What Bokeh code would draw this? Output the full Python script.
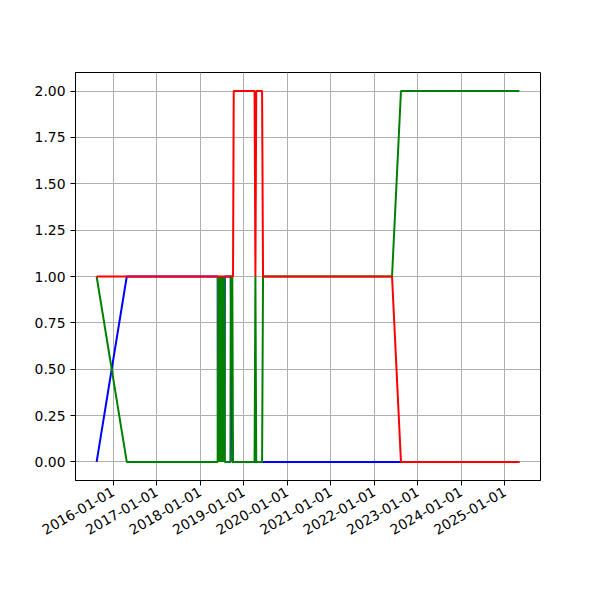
import math
import pandas as pd
from bokeh.plotting import figure
from bokeh.models import FixedTicker, PrintfTickFormatter, DatetimeTickFormatter, Range1d
from bokeh.embed import file_html
from bokeh.resources import INLINE

# ---- data ----
dates = [
    "2015-08-15", "2016-04-24",
    "2018-05-27", "2018-05-30", "2018-06-02", "2018-06-05", "2018-06-08", "2018-06-11",
    "2018-06-14", "2018-06-17", "2018-06-20", "2018-06-23", "2018-06-26", "2018-06-29",
    "2018-07-02", "2018-07-05", "2018-07-08", "2018-07-11", "2018-07-14", "2018-07-17",
    "2018-07-20", "2018-07-23", "2018-07-26", "2018-07-29",
    "2018-09-11", "2018-09-14", "2018-09-27", "2018-10-03", "2018-10-09",
    "2019-04-02", "2019-04-09", "2019-04-16",
    "2019-06-04", "2019-06-12",
    "2022-05-30", "2022-08-13",
    "2025-05-03",
]
blue = [
    0, 1,
    1, 0, 1, 0, 1, 0,
    1, 0, 1, 0, 1, 0,
    1, 0, 1, 0, 1, 0,
    1, 0, 1, 1,
    1, 1, 0, 0, 0,
    0, 0, 0,
    0, 0,
    0, 0,
    0,
]
green = [
    1, 0,
    0, 1, 0, 1, 0, 1,
    0, 1, 0, 1, 0, 1,
    0, 1, 0, 1, 0, 1,
    0, 1, 0, 0,
    0, 1, 1, 0, 0,
    0, 1, 0,
    0, 1,
    1, 2,
    2,
]
red = [
    1, 1,
    1, 1, 1, 1, 1, 1,
    1, 1, 1, 1, 1, 1,
    1, 1, 1, 1, 1, 1,
    1, 1, 1, 1,
    1, 1, 1, 1, 2,
    2, 1, 2,
    2, 1,
    1, 0,
    0,
]
x_tick_labels = ["2016-01-01", "2017-01-01", "2018-01-01", "2019-01-01", "2020-01-01",
                 "2021-01-01", "2022-01-01", "2023-01-01", "2024-01-01", "2025-01-01"]
y_ticks = [0.0, 0.25, 0.5, 0.75, 1.0, 1.25, 1.5, 1.75, 2.0]

x = pd.to_datetime(dates)
xt = [pd.Timestamp(s).value / 1e6 for s in x_tick_labels]

t0 = x.min().value / 1e6
t1 = x.max().value / 1e6
pad = 0.05 * (t1 - t0)

p = figure(width=584, height=584, x_axis_type="datetime", output_backend="svg",
           toolbar_location=None,
           x_range=Range1d(t0 - pad, t1 + pad), y_range=Range1d(-0.1, 2.1),
           min_border_left=75, min_border_right=44, min_border_top=72, min_border_bottom=104)

p.line(x, blue, color="#0000ff", line_width=2)
p.line(x, green, color="#008000", line_width=2)
p.line(x, red, color="#ff0000", line_width=2)

p.xaxis.ticker = FixedTicker(ticks=xt)
p.xaxis.formatter = DatetimeTickFormatter(years="%Y-%m-%d", months="%Y-%m-%d", days="%Y-%m-%d",
                                          hours="%Y-%m-%d", minutes="%Y-%m-%d")
p.xaxis.major_label_orientation = math.pi / 6
p.yaxis.ticker = FixedTicker(ticks=y_ticks)
p.yaxis.formatter = PrintfTickFormatter(format="%.2f")

for ax in (p.xaxis, p.yaxis):
    ax.axis_line_color = "black"
    ax.axis_line_width = 1
    ax.major_tick_in = 0
    ax.major_tick_out = 5
    ax.major_tick_line_color = "black"
    ax.minor_tick_line_color = None
    ax.major_label_text_font = "DejaVu Sans"
    ax.major_label_text_font_size = "13.9px"
    ax.major_label_text_color = "black"
    ax.major_label_standoff = 5

p.grid.grid_line_color = "#b0b0b0"
p.grid.grid_line_width = 1
p.outline_line_color = "black"
p.outline_line_width = 1
p.background_fill_color = "white"
p.border_fill_color = "white"

open("out.html", "w").write(file_html(p, INLINE))
